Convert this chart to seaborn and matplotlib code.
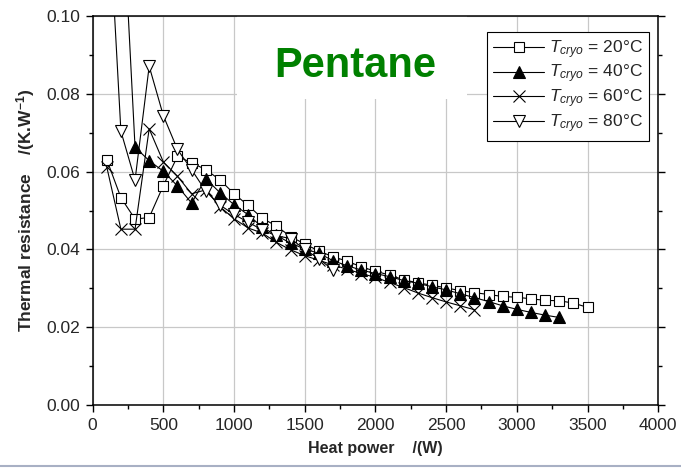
import matplotlib
matplotlib.use("Agg")
import matplotlib.pyplot as plt
from matplotlib.ticker import AutoMinorLocator, FormatStrFormatter, MultipleLocator
from matplotlib.patches import Rectangle
from matplotlib.lines import Line2D
import seaborn as sns

# Heat power (W) and thermal resistance (K/W) for each cryostat temperature
power_20 = [100, 200, 300, 400, 500, 600, 700, 800, 900, 1000, 1100, 1200,
            1300, 1400, 1500, 1600, 1700, 1800, 1900, 2000, 2100, 2200, 2300,
            2400, 2500, 2600, 2700, 2800, 2900, 3000, 3100, 3200, 3300, 3400,
            3500]
resist_20 = [0.0631, 0.0533, 0.0478, 0.0482, 0.0564, 0.0639, 0.0623, 0.0605,
             0.0579, 0.0543, 0.0513, 0.0480, 0.0460, 0.0433, 0.0414, 0.0396,
             0.0381, 0.0370, 0.0355, 0.0344, 0.0334, 0.0322, 0.0314, 0.0308,
             0.0301, 0.0294, 0.0289, 0.0284, 0.0279, 0.0277, 0.0273, 0.0269,
             0.0268, 0.0262, 0.0251]

power_40 = [200, 300, 400, 500, 600, 700, 800, 900, 1000, 1100, 1200, 1300,
            1400, 1500, 1600, 1700, 1800, 1900, 2000, 2100, 2200, 2300, 2400,
            2500, 2600, 2700, 2800, 2900, 3000, 3100, 3200, 3300]
resist_40 = [0.1370, 0.0663, 0.0628, 0.0601, 0.0563, 0.0519, 0.0582, 0.0546,
             0.0515, 0.0489, 0.0457, 0.0436, 0.0416, 0.0401, 0.0390, 0.0371,
             0.0358, 0.0347, 0.0338, 0.0330, 0.0320, 0.0313, 0.0304, 0.0296,
             0.0286, 0.0276, 0.0266, 0.0255, 0.0246, 0.0238, 0.0231, 0.0225]

power_60 = [100, 200, 300, 400, 500, 600, 700, 800, 900, 1000, 1100, 1200,
            1300, 1400, 1500, 1600, 1700, 1800, 1900, 2000, 2100, 2200, 2300,
            2400, 2500, 2600, 2700]
resist_60 = [0.0612, 0.0452, 0.0452, 0.0710, 0.0625, 0.0588, 0.0543, 0.0553,
             0.0510, 0.0479, 0.0455, 0.0442, 0.0418, 0.0399, 0.0384, 0.0372,
             0.0360, 0.0349, 0.0338, 0.0328, 0.0315, 0.0302, 0.0288, 0.0276,
             0.0265, 0.0255, 0.0245]

power_80 = [100, 200, 300, 400, 500, 600, 700, 800, 900, 1000, 1100, 1200,
            1300, 1400, 1500, 1600, 1700]
resist_80 = [0.1370, 0.0704, 0.0578, 0.0871, 0.0744, 0.0657, 0.0605, 0.0550,
             0.0514, 0.0490, 0.0470, 0.0450, 0.0435, 0.0428, 0.0400, 0.0376,
             0.0347]

labels = [r"$T_{cryo}$ = 20°C", r"$T_{cryo}$ = 40°C",
          r"$T_{cryo}$ = 60°C", r"$T_{cryo}$ = 80°C"]

sns.set_style("white")
plt.rcParams["font.family"] = ["Liberation Sans", "DejaVu Sans"]
plt.rcParams["mathtext.fontset"] = "custom"
plt.rcParams["mathtext.rm"] = "Liberation Sans"
plt.rcParams["mathtext.it"] = "Liberation Sans:italic"
plt.rcParams["mathtext.bf"] = "Liberation Sans:bold"

fig = plt.figure(figsize=(6.81, 4.68), dpi=100)
ax = fig.add_axes([0.136, 0.1346, 0.8306, 0.8312])

common = dict(ax=ax, color="black", linewidth=0.8, markeredgecolor="black",
              markeredgewidth=0.8, zorder=3)
sns.lineplot(x=power_20, y=resist_20, marker="s", markersize=6.8,
             markerfacecolor="white", label=labels[0], **common)
sns.lineplot(x=power_40, y=resist_40, marker="^", markersize=8,
             markerfacecolor="black", label=labels[1], **common)
sns.lineplot(x=power_60, y=resist_60, marker="x", markersize=8,
             label=labels[2], **common)
sns.lineplot(x=power_80, y=resist_80, marker="v", markersize=8,
             markerfacecolor="white", label=labels[3], **common)

ax.set_xlim(0, 4000)
ax.set_ylim(0, 0.10)
ax.xaxis.set_major_locator(MultipleLocator(500))
ax.xaxis.set_minor_locator(AutoMinorLocator(2))
ax.yaxis.set_major_locator(MultipleLocator(0.02))
ax.yaxis.set_minor_locator(AutoMinorLocator(2))
ax.yaxis.set_major_formatter(FormatStrFormatter("%.2f"))

ax.grid(True, which="major", color="#c8c8c8", linewidth=0.9)
ax.set_axisbelow(True)

for side in ["left", "bottom", "right", "top"]:
    ax.spines[side].set_visible(True)
    ax.spines[side].set_color("black")
    ax.spines[side].set_linewidth(1.1)

ax.tick_params(which="both", direction="out", left=True, bottom=True,
               right=True, top=False, labelright=False, color="black")
ax.tick_params(which="major", length=5, width=1.0, labelsize=12.5, pad=4)
ax.tick_params(which="minor", length=3, width=1.0)

ax.set_xlabel("Heat power    /(W)", fontsize=11.5, fontweight="bold", labelpad=6)
ax.set_ylabel(r"Thermal resistance    /(K.W$^{\mathbf{-1}}$)", fontsize=12.5,
              fontweight="bold", labelpad=7)

# white panel behind the substance name
ax.add_patch(Rectangle((0.255, 0.786), 0.407, 0.214, transform=ax.transAxes,
                       facecolor="white", edgecolor="none", zorder=1.5))
ax.text(0.464, 0.843, "Pentane", transform=ax.transAxes, ha="center",
        va="baseline", fontsize=30, fontweight="bold", color="#008000",
        zorder=4)

leg = ax.legend(loc="upper right", bbox_to_anchor=(0.9836, 0.9588),
                borderaxespad=0, frameon=True, fancybox=False,
                edgecolor="black", framealpha=1, fontsize=12.5,
                handlelength=2.9, handletextpad=0.3, labelspacing=0.12,
                borderpad=0.35)
leg.get_frame().set_linewidth(0.8)

fig.add_artist(Line2D([0, 1], [0.004, 0.004], transform=fig.transFigure,
                      color="#a8b0c4", linewidth=1.5))

fig.savefig("out.png", dpi=100)
